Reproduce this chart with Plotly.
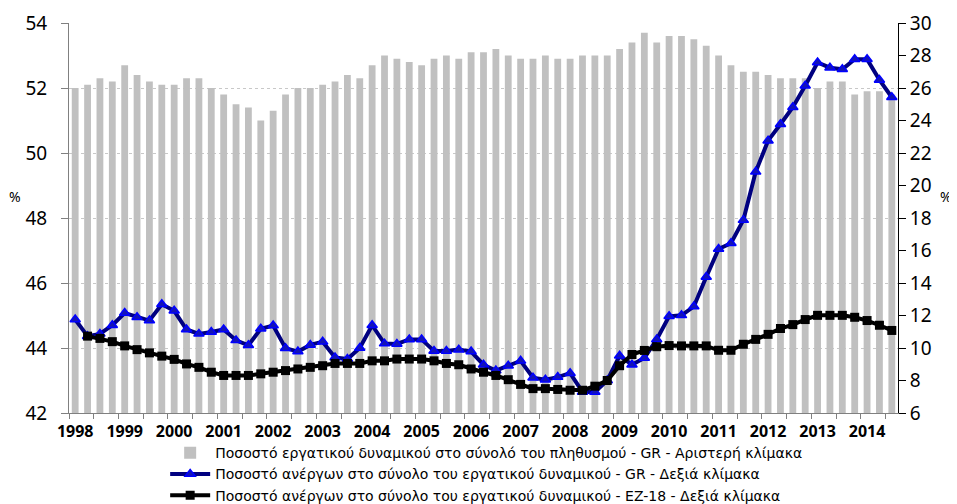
import plotly.graph_objects as go

years = [str(y) for y in range(1998, 2015)]
n_quarters = 67  # 1998Q1 .. 2014Q3

participation_gr = [
    52.0, 52.1, 52.3, 52.2, 52.7, 52.4, 52.2, 52.1, 52.1, 52.3,
    52.3, 52.0, 51.8, 51.5, 51.4, 51.0, 51.3, 51.8, 52.0, 52.0,
    52.1, 52.2, 52.4, 52.3, 52.7, 53.0, 52.9, 52.8, 52.7, 52.9,
    53.0, 52.9, 53.1, 53.1, 53.2, 53.0, 52.9, 52.9, 53.0, 52.9,
    52.9, 53.0, 53.0, 53.0, 53.2, 53.4, 53.7, 53.4, 53.6, 53.6,
    53.5, 53.3, 53.0, 52.7, 52.5, 52.5, 52.4, 52.3, 52.3, 52.3,
    52.0, 52.2, 52.2, 51.8, 51.9, 51.9, 51.8,
]

unemployment_gr = [
    11.75, 10.73, 10.87, 11.40, 12.15, 11.89, 11.69, 12.69, 12.29, 11.14,
    10.87, 10.98, 11.14, 10.47, 10.17, 11.18, 11.38, 9.99, 9.78, 10.19,
    10.39, 9.42, 9.32, 10.00, 11.40, 10.27, 10.25, 10.53, 10.53, 9.82,
    9.82, 9.90, 9.78, 8.97, 8.61, 8.91, 9.21, 8.17, 8.05, 8.21,
    8.45, 7.30, 7.30, 8.00, 9.52, 8.97, 9.38, 10.53, 11.95, 12.01,
    12.55, 14.37, 16.09, 16.45, 17.87, 20.84, 22.76, 23.77, 24.82, 26.14,
    27.57, 27.25, 27.15, 27.77, 27.77, 26.50, 25.43,
]

unemployment_ez18 = [
    None, 10.73, 10.59, 10.39, 10.13, 9.90, 9.70, 9.50, 9.30, 9.02,
    8.81, 8.51, 8.31, 8.31, 8.31, 8.41, 8.51, 8.61, 8.71, 8.81,
    8.91, 9.05, 9.05, 9.05, 9.21, 9.21, 9.32, 9.32, 9.32, 9.21,
    9.05, 8.97, 8.71, 8.51, 8.31, 8.05, 7.76, 7.50, 7.50, 7.45,
    7.40, 7.40, 7.65, 8.00, 8.91, 9.60, 9.85, 10.08, 10.15, 10.13,
    10.13, 10.13, 9.86, 9.86, 10.23, 10.53, 10.84, 11.20, 11.44, 11.75,
    12.01, 12.01, 12.01, 11.89, 11.69, 11.40, 11.08,
]

names = [
    "Ποσοστό εργατικού δυναμικού στο σύνολό του πληθυσμού - GR - Αριστερή κλίμακα",
    "Ποσοστό ανέργων στο σύνολο του εργατικού δυναμικού - GR - Δεξιά κλίμακα",
    "Ποσοστό ανέργων στο σύνολο του εργατικού δυναμικού - EZ-18 - Δεξιά κλίμακα",
]

x = list(range(n_quarters))
FONT = "Noto Sans"
LEGEND_FONT = "DejaVu Sans"

fig = go.Figure()
fig.add_trace(go.Bar(
    x=x, y=participation_gr, name=names[0],
    marker=dict(color="#C0C0C0", line=dict(width=0)),
    width=0.55, yaxis="y",
))
fig.add_trace(go.Scatter(
    x=x, y=unemployment_gr, name=names[1], mode="lines+markers",
    line=dict(color="#000080", width=4),
    marker=dict(symbol="triangle-up", size=9, color="#1414B4",
                line=dict(color="#0000FF", width=1.5)),
    yaxis="y2",
))
fig.add_trace(go.Scatter(
    x=x, y=unemployment_ez18, name=names[2], mode="lines+markers",
    line=dict(color="#000000", width=4),
    marker=dict(symbol="square", size=9, color="#000000"),
    yaxis="y2",
))

fig.update_layout(
    width=949, height=496,
    margin=dict(l=61, r=59, t=15, b=91, autoexpand=False),
    paper_bgcolor="white", plot_bgcolor="white",
    bargap=0.45,
    font=dict(family=FONT, color="black"),
    xaxis=dict(
        range=[-0.5, n_quarters - 0.5],
        tickmode="array", tickvals=[4 * i for i in range(len(years))], ticktext=years,
        ticks="", showgrid=False, zeroline=False,
        showline=True, linecolor="#808080", linewidth=1,
        tickfont=dict(family=FONT, size=16, color="black", weight="bold"),
        ticklabelstandoff=4,
        minor=dict(tickmode="array",
                   tickvals=[-0.5 + 2 * k for k in range(34)],
                   ticks="outside", ticklen=5, tickcolor="#808080", showgrid=False),
    ),
    yaxis=dict(
        range=[42, 54], dtick=2, tick0=42,
        showgrid=True, gridcolor="#C8C8C8", griddash="dot", gridwidth=1,
        zeroline=False,
        showline=True, linecolor="#808080", linewidth=1,
        ticks="outside", ticklen=7, tickcolor="#808080",
        tickfont=dict(family=FONT, size=19, color="black"),
        ticklabelstandoff=10, ticklabeloverflow="allow",
    ),
    yaxis2=dict(
        range=[6, 30], dtick=2, tick0=6,
        overlaying="y", side="right",
        showgrid=False, zeroline=False,
        showline=True, linecolor="black", linewidth=1,
        ticks="outside", ticklen=7, tickcolor="black",
        tickfont=dict(family=FONT, size=19, color="black"),
        ticklabeloverflow="allow",
    ),
    legend=dict(
        orientation="v", x=0.116, xanchor="left", y=-0.062, yanchor="top",
        font=dict(family=LEGEND_FONT, size=14, color="black"),
        bgcolor="rgba(0,0,0,0)", tracegroupgap=0, itemwidth=40,
    ),
    showlegend=True,
    annotations=[
        dict(text="%", xref="paper", yref="paper", x=-0.065, y=0.555,
             xanchor="center", yanchor="middle",
             showarrow=False, font=dict(family=FONT, size=14, color="black")),
        dict(text="%", xref="paper", yref="paper", x=1.058, y=0.555,
             xanchor="center", yanchor="middle",
             showarrow=False, font=dict(family=FONT, size=14, color="black")),
    ],
)

fig.write_html("out.html")
